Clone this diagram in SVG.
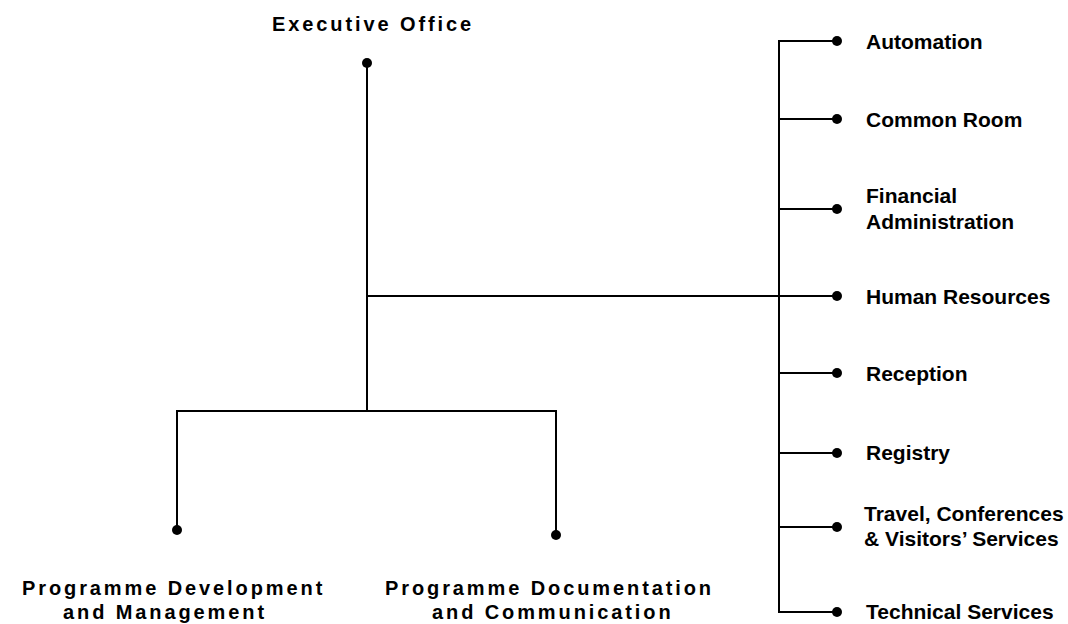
<svg xmlns="http://www.w3.org/2000/svg" width="1068" height="624" viewBox="0 0 1068 624">
<style>
.ln{stroke:#000;stroke-width:2;fill:none}
.dot{fill:#000}
.lbl{font-family:"Liberation Sans",Arial,sans-serif;font-weight:bold;font-size:21px;fill:#000}
.sp{font-family:"Liberation Sans",Arial,sans-serif;font-weight:bold;font-size:20px;letter-spacing:2.9px;fill:#000}
</style>
<rect width="1068" height="624" fill="#fff"/>
<g id="connectors">
<path class="ln" d="M367,63 V411"/>
<path class="ln" d="M367,296 H837"/>
<path class="ln" d="M177,530 V411 H556 V535"/>
<path class="ln" d="M837,41 H779 V612 H837"/>
<path class="ln" d="M779,119 H837"/>
<path class="ln" d="M779,209 H837"/>
<path class="ln" d="M779,373 H837"/>
<path class="ln" d="M779,453 H837"/>
<path class="ln" d="M779,527 H837"/>
</g>
<g id="executive-office"><circle class="dot" cx="367" cy="63" r="5"/><text class="sp" x="272" y="31">Executive Office</text></g>
<g id="programme-development"><circle class="dot" cx="177" cy="530" r="5"/><text class="sp" x="22" y="595">Programme Development</text><text class="sp" x="63" y="619">and Management</text></g>
<g id="programme-documentation"><circle class="dot" cx="556" cy="535" r="5"/><text class="sp" x="385" y="595">Programme Documentation</text><text class="sp" x="432" y="619">and Communication</text></g>
<g id="automation"><circle class="dot" cx="837" cy="41" r="5"/><text class="lbl" x="866" y="49">Automation</text></g>
<g id="common-room"><circle class="dot" cx="837" cy="119" r="5"/><text class="lbl" x="866" y="127">Common Room</text></g>
<g id="financial-administration"><circle class="dot" cx="837" cy="209" r="5"/><text class="lbl" x="866" y="203">Financial</text><text class="lbl" x="866" y="229">Administration</text></g>
<g id="human-resources"><circle class="dot" cx="837" cy="296" r="5"/><text class="lbl" x="866" y="304">Human Resources</text></g>
<g id="reception"><circle class="dot" cx="837" cy="373" r="5"/><text class="lbl" x="866" y="381">Reception</text></g>
<g id="registry"><circle class="dot" cx="837" cy="453" r="5"/><text class="lbl" x="866" y="460">Registry</text></g>
<g id="travel"><circle class="dot" cx="837" cy="527" r="5"/><text class="lbl" x="864" y="521">Travel, Conferences</text><text class="lbl" x="864" y="546">&amp; Visitors’ Services</text></g>
<g id="technical-services"><circle class="dot" cx="837" cy="612" r="5"/><text class="lbl" x="866" y="619">Technical Services</text></g>
</svg>
